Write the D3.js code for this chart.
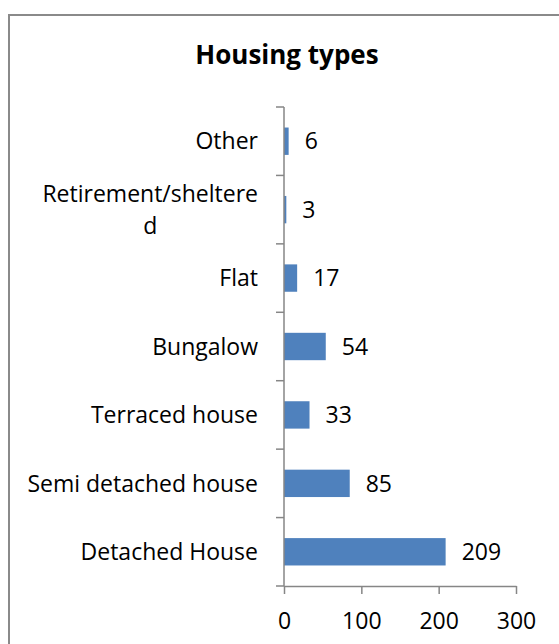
<!DOCTYPE html>
<html>
<head>
<meta charset="utf-8">
<script src="https://cdn.jsdelivr.net/npm/d3@7"></script>
<style>
  html, body { margin: 0; padding: 0; background: #fff; }
  svg { display: block; font-family: "Open Sans", "Noto Sans", sans-serif; }
</style>
</head>
<body>
<svg id="chart" width="559" height="644"></svg>
<script>
// Housing types, listed top to bottom as drawn
const categories = ["Other", "Retirement/sheltered", "Flat", "Bungalow", "Terraced house", "Semi detached house", "Detached House"];
const counts = [6, 3, 17, 54, 33, 85, 209];
const xTicks = [0, 100, 200, 300];
const title = "Housing types";

// Category labels as they wrap in the axis
const labelLines = {
  "Retirement/sheltered": ["Retirement/sheltere", "d"]
};

const svg = d3.select("#chart");
const axisColor = "#868686";
const fontSize = 23;

// Chart frame (left and top edges)
svg.append("path")
  .attr("d", "M9,644 L9,15 L559,15")
  .attr("fill", "none")
  .attr("stroke", "#8a8a8a")
  .attr("stroke-width", 2);

// Title
svg.append("text")
  .attr("x", 287)
  .attr("y", 64)
  .attr("text-anchor", "middle")
  .attr("font-size", 26)
  .attr("font-weight", "bold")
  .attr("fill", "#000")
  .text(title);

const x = d3.scaleLinear().domain([0, 300]).range([284, 516]);
const y = d3.scaleBand().domain(categories).range([107, 586]).paddingInner(0.6).paddingOuter(0.3);
const step = y.step();
const plotTop = 107, plotBottom = 586;

// Bars
svg.append("g").selectAll("rect")
  .data(categories)
  .join("rect")
  .attr("x", x(0))
  .attr("y", d => y(d))
  .attr("width", (d, i) => x(counts[i]) - x(0))
  .attr("height", y.bandwidth())
  .attr("fill", "#4F81BD");

// Value labels
svg.append("g").selectAll("text")
  .data(categories)
  .join("text")
  .attr("x", (d, i) => x(counts[i]) + 16)
  .attr("y", d => y(d) + y.bandwidth() / 2)
  .attr("dy", "0.36em")
  .attr("font-size", fontSize)
  .attr("fill", "#000")
  .text((d, i) => counts[i]);

// Category axis: line and boundary ticks
const yAxis = svg.append("g");
yAxis.append("line")
  .attr("x1", x(0)).attr("x2", x(0))
  .attr("y1", plotTop).attr("y2", plotBottom)
  .attr("stroke", axisColor).attr("stroke-width", 1.5);
d3.range(categories.length + 1).forEach(i => {
  const yy = plotTop + i * step;
  yAxis.append("line")
    .attr("x1", x(0) - 8).attr("x2", x(0))
    .attr("y1", yy).attr("y2", yy)
    .attr("stroke", axisColor).attr("stroke-width", 1.5);
});

// Category labels
const labelRight = 258;
const lineH = 32;
categories.forEach(c => {
  const lines = labelLines[c] || [c];
  const cy = y(c) + y.bandwidth() / 2;
  const t = yAxis.append("text")
    .attr("font-size", fontSize)
    .attr("fill", "#000");
  if (lines.length === 1) {
    t.attr("x", labelRight).attr("y", cy).attr("dy", "0.36em")
      .attr("text-anchor", "end").text(lines[0]);
  } else {
    // measure the widest line, then center the block against the right edge
    const spans = lines.map((ln, k) => t.append("tspan")
      .attr("y", cy + (k - (lines.length - 1) / 2) * lineH)
      .attr("dy", "0.36em")
      .text(ln));
    const w = d3.max(spans, s => s.node().getComputedTextLength());
    spans.forEach(s => s.attr("x", labelRight - w / 2));
    t.attr("text-anchor", "middle");
  }
});

// Value axis
const xAxis = svg.append("g")
  .attr("transform", `translate(0,${plotBottom})`)
  .call(d3.axisBottom(x).tickValues(xTicks).tickSize(8).tickSizeOuter(0).tickPadding(19));
xAxis.select(".domain").attr("stroke", axisColor).attr("stroke-width", 1.5);
xAxis.selectAll(".tick line").attr("stroke", axisColor).attr("stroke-width", 1.5);
xAxis.selectAll(".tick text")
  .attr("font-size", fontSize)
  .attr("font-family", "\"Open Sans\", \"Noto Sans\", sans-serif")
  .attr("fill", "#000");
</script>
</body>
</html>
